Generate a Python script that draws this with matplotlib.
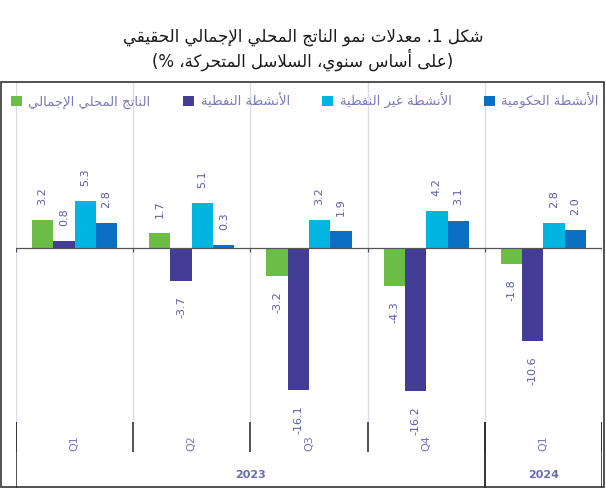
import numpy as np
import matplotlib
matplotlib.use("Agg")
import matplotlib.pyplot as plt
from matplotlib.patches import Rectangle, Patch

# --- data ---
quarters = ["Q1", "Q2", "Q3", "Q4", "Q1"]
years = ["2023", "2024"]
year_spans = [(0, 3), (4, 4)]
gdp = [3.2, 1.7, -3.2, -4.3, -1.8]
oil = [0.8, -3.7, -16.1, -16.2, -10.6]
nonoil = [5.3, 5.1, 3.2, 4.2, 2.8]
gov = [2.8, 0.3, 1.9, 3.1, 2.0]

series_names = ["الناتج المحلي الإجمالي", "الأنشطة النفطية",
                "الأنشطة غير النفطية", "الأنشطة الحكومية"]
series_colors = ["#6cbd45", "#443d96", "#00b5e2", "#0a6fc0"]
title1 = "شكل 1. معدلات نمو الناتج المحلي الإجمالي الحقيقي"
title2 = "(على أساس سنوي، السلاسل المتحركة، %)"

# --- tiny arabic shaper (no reshaper lib offline) ---
DUAL = {0x0626: 0xFE89, 0x0628: 0xFE8F, 0x062A: 0xFE95, 0x062B: 0xFE99,
        0x062C: 0xFE9D, 0x062D: 0xFEA1, 0x062E: 0xFEA5, 0x0633: 0xFEB1,
        0x0634: 0xFEB5, 0x0635: 0xFEB9, 0x0636: 0xFEBD, 0x0637: 0xFEC1,
        0x0638: 0xFEC5, 0x0639: 0xFEC9, 0x063A: 0xFECD, 0x0641: 0xFED1,
        0x0642: 0xFED5, 0x0643: 0xFED9, 0x0644: 0xFEDD, 0x0645: 0xFEE1,
        0x0646: 0xFEE5, 0x0647: 0xFEE9, 0x064A: 0xFEF1}
RIGHT = {0x0622: 0xFE81, 0x0623: 0xFE83, 0x0624: 0xFE85, 0x0625: 0xFE87,
         0x0627: 0xFE8D, 0x0629: 0xFE93, 0x062F: 0xFEA9, 0x0630: 0xFEAB,
         0x0631: 0xFEAD, 0x0632: 0xFEAF, 0x0648: 0xFEED, 0x0649: 0xFEEF}
LAMALEF = {0x0622: 0xFEF5, 0x0623: 0xFEF7, 0x0625: 0xFEF9, 0x0627: 0xFEFB}


def ar(s):
    cs = [ord(c) for c in s]
    out = []
    i = 0
    n = len(cs)
    while i < n:
        c = cs[i]
        pj = i > 0 and cs[i - 1] in DUAL
        if c == 0x0644 and i + 1 < n and cs[i + 1] in LAMALEF:
            out.append(chr(LAMALEF[cs[i + 1]] + (1 if pj else 0)))
            i += 2
            continue
        nj = i + 1 < n and (cs[i + 1] in DUAL or cs[i + 1] in RIGHT)
        if c in DUAL:
            b = DUAL[c]
            if pj and nj:
                out.append(chr(b + 3))
            elif pj:
                out.append(chr(b + 1))
            elif nj:
                out.append(chr(b + 2))
            else:
                out.append(chr(b))
        elif c in RIGHT:
            out.append(chr(RIGHT[c] + (1 if pj else 0)))
        else:
            out.append(chr(c))
        i += 1
    vis = "".join(reversed(out))
    return vis.translate(str.maketrans("()", ")("))


plt.rcParams['font.family'] = ['DejaVu Sans']

fig = plt.figure(figsize=(6.06, 4.88), dpi=100)
W, H = 606, 488

# outer box
fig.patches.append(Rectangle((1 / W, 1 / H), 603 / W, 405 / H, transform=fig.transFigure,
                             fill=False, edgecolor="#333333", lw=1.2))

fig.text(0.5, 1 - 37 / H, ar(title1), ha="center", va="center", fontsize=12, color="#1a1a1a")
fig.text(0.5, 1 - 60 / H, ar(title2), ha="center", va="center", fontsize=12, color="#1a1a1a")

ax = fig.add_axes([16 / W, (H - 422) / H, 586 / W, (422 - 83) / H])
x = np.arange(len(quarters))
bw = 0.182
data = [gdp, oil, nonoil, gov]
bounds = np.arange(-0.5, len(quarters), 1.0)
for b in bounds:
    ax.axvline(b, color="#dcdcec", lw=1, zorder=0)
ax.axhline(0, color="#555555", lw=0.9, zorder=3)
ax.vlines(bounds, -0.5, 0, color="#555555", lw=0.9, zorder=3)

for k, (vals, col) in enumerate(zip(data, series_colors)):
    pos = x + (k - 1.5) * bw
    ax.bar(pos, vals, width=bw, color=col, zorder=2)
    for p, v in zip(pos, vals):
        ax.annotate(f"{v:.1f}", (p, v), xytext=(0, 11 if v >= 0 else -11),
                    textcoords="offset points", rotation=90, ha="center",
                    va="bottom" if v >= 0 else "top", fontsize=8, color="#5b5ba8")

ax.set_xlim(-0.5, len(quarters) - 0.5)
ax.set_ylim(-19.77, 18.75)
ax.axis("off")

handles = [Patch(facecolor=c) for c in series_colors]
leg = fig.legend(handles, [ar(s) for s in series_names], ncol=4, loc="center",
                 bbox_to_anchor=(6 / W, 1 - 113 / H, 598 / W, 24 / H), mode="expand",
                 frameon=False, fontsize=9.5, handlelength=0.8, handleheight=0.8,
                 handletextpad=0.5, borderaxespad=0)
for t in leg.get_texts():
    t.set_color("#7a7ab8")

# multi-level category axis
ax2 = fig.add_axes([16 / W, 0, 586 / W, (H - 422) / H])
ax2.set_xlim(-0.5, len(quarters) - 0.5)
ax2.set_ylim(0, H - 422)
ax2.vlines(bounds, 36, 66, color="#333333", lw=1.2)
for a, b in year_spans:
    ax2.vlines([a - 0.5, b + 0.5], 0, 66, color="#333333", lw=1.2)
for xi, q in zip(x, quarters):
    ax2.text(xi, 45, q, rotation=90, ha="center", va="center", fontsize=8, color="#7575b8")
for (a, b), yr in zip(year_spans, years):
    ax2.text((a + b) / 2, 13, yr, ha="center", va="center", fontsize=8,
             fontweight="bold", color="#6b6bb0")
ax2.axis("off")

fig.savefig("out.png", dpi=100)
